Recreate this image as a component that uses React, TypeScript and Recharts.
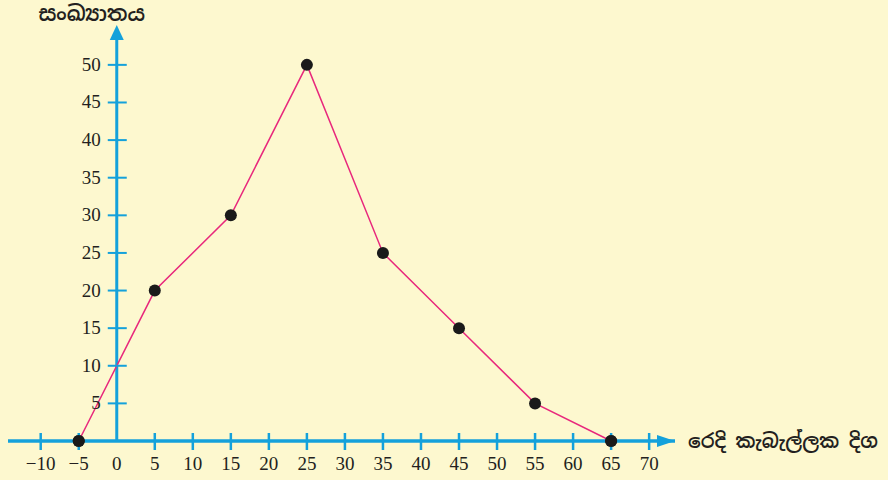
import { LineChart, Line, XAxis, YAxis, ReferenceLine, ReferenceDot } from 'recharts'

// මධ්‍ය අගයන් සහ සංඛ්‍යාත
const midpoints = [-5, 5, 15, 25, 35, 45, 55, 65]
const frequencies = [0, 20, 30, 50, 25, 15, 5, 0]

const xTicks = [-10, -5, 0, 5, 10, 15, 20, 25, 30, 35, 40, 45, 50, 55, 60, 65, 70]
const yTicks = [5, 10, 15, 20, 25, 30, 35, 40, 45, 50]

const xTitle = 'රෙදි කැබැල්ලක දිග'
const yTitle = 'සංඛ්‍යාතය'

const data = midpoints.map((x, i) => ({ x, f: frequencies[i] }))
// points lying on the x axis (drawn again above the tick marks)
const onAxis = midpoints.filter((_, i) => frequencies[i] === 0)

const X_MIN = -14.3
const X_MAX = 73.4
const Y_MAX = 55.3

const AXIS = '#14a1db'
const LINE = '#e8287c'
const INK = '#231f20'
const DOT = '#1a1a1a'
const BG = '#fdf8cf'
const NUM_FONT = '"Liberation Serif", "DejaVu Serif", serif'
const SI_FONT = '"Noto Sans Sinhala", "Noto Serif Sinhala", "Iskoola Pota", sans-serif'

const fmt = (v: number) => (v < 0 ? `\u2212${Math.abs(v)}` : `${v}`)

const XTick = (props: any) => {
  const { x, y, payload } = props
  const v = payload.value
  return (
    <g>
      {v !== 0 && <line x1={x} x2={x} y1={y - 8} y2={y + 9} stroke={AXIS} strokeWidth={2.5} />}
      {onAxis.includes(v) && <circle cx={x} cy={y} r={6} fill={DOT} />}
      <text x={x} y={y + 29} textAnchor="middle" fontFamily={NUM_FONT} fontSize={19} fill={INK}>
        {fmt(v)}
      </text>
    </g>
  )
}

const YTick = (v: number) => (props: any) => {
  const { cx, cy } = props
  return (
    <g>
      <line x1={cx - 9} x2={cx + 10} y1={cy} y2={cy} stroke={AXIS} strokeWidth={2} />
      <text x={cx - 16} y={cy + 6} textAnchor="end" fontFamily={NUM_FONT} fontSize={19} fill={INK}>
        {v}
      </text>
    </g>
  )
}

const UpArrow = (props: any) => {
  const { cx, cy } = props
  return (
    <g>
      <polygon points={`${cx},${cy} ${cx - 7},${cy + 15} ${cx + 7},${cy + 15}`} fill={AXIS} />
      <text x={cx - 25} y={cy - 4} textAnchor="middle" fontFamily={SI_FONT} fontSize={21} fontWeight={600} fill={INK}>
        {yTitle}
      </text>
    </g>
  )
}

const RightArrow = (props: any) => {
  const { cx, cy } = props
  return (
    <g>
      <polygon points={`${cx},${cy} ${cx - 18},${cy - 6} ${cx - 18},${cy + 6}`} fill={AXIS} />
      <text
        x={cx + 13}
        y={cy + 7}
        textAnchor="start"
        fontFamily={SI_FONT}
        fontSize={20}
        fontWeight={600}
        fill={INK}
        textLength={190}
        lengthAdjust="spacingAndGlyphs"
      >
        {xTitle}
      </text>
    </g>
  )
}

const Dot = (props: any) => {
  const { cx, cy, index } = props
  return <circle key={`d-${index}`} cx={cx} cy={cy} r={6} fill={DOT} />
}

export default function App() {
  return (
    <div style={{ position: 'absolute', left: 0, top: 0, width: 888, height: 480, background: BG }}>
      <LineChart width={888} height={480} data={data} margin={{ top: 25, right: 213, bottom: 7, left: 8 }}>
        <XAxis
          dataKey="x"
          type="number"
          domain={[X_MIN, X_MAX]}
          ticks={xTicks}
          interval={0}
          height={32}
          tickSize={0}
          tickMargin={0}
          tickLine={false}
          axisLine={{ stroke: AXIS, strokeWidth: 3.5 }}
          tick={<XTick />}
        />
        <YAxis hide type="number" domain={[0, Y_MAX]} />
        <ReferenceLine segment={[{ x: 0, y: 0 }, { x: 0, y: 54 }]} stroke={AXIS} strokeWidth={3} />
        {yTicks.map(v => (
          <ReferenceDot key={v} x={0} y={v} ifOverflow="visible" shape={YTick(v)} />
        ))}
        <ReferenceDot x={0} y={Y_MAX} ifOverflow="visible" shape={UpArrow} />
        <ReferenceDot x={X_MAX} y={0} ifOverflow="visible" shape={RightArrow} />
        <Line
          type="linear"
          dataKey="f"
          stroke={LINE}
          strokeWidth={1.5}
          dot={<Dot />}
          activeDot={false}
          isAnimationActive={false}
        />
      </LineChart>
    </div>
  )
}
